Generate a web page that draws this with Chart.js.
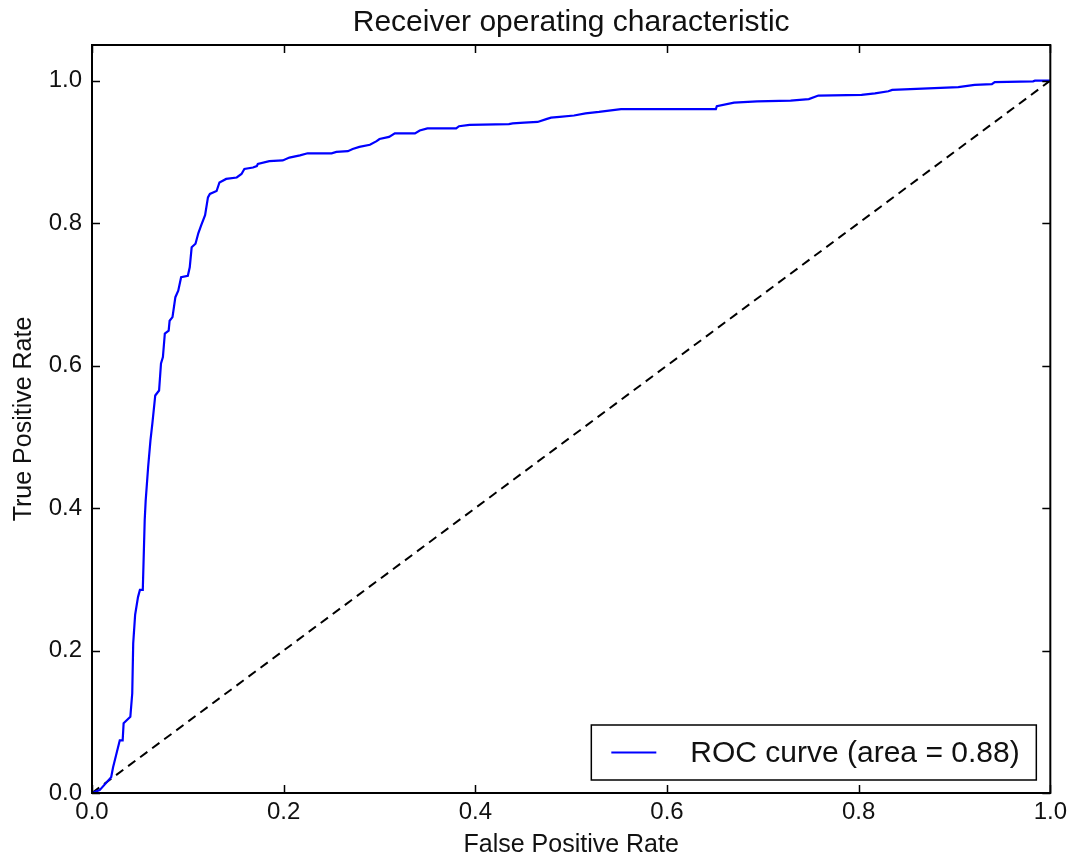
<!DOCTYPE html>
<html>
<head>
<meta charset="utf-8">
<title>Receiver operating characteristic</title>
<script src="https://cdn.jsdelivr.net/npm/chart.js@4.4.1/dist/chart.umd.min.js"></script>
<style>
    html, body { margin: 0; padding: 0; background: #fff; }
    #wrap { width: 1072px; height: 858px; }
</style>
</head>
<body>
<div id="wrap"><canvas id="rocChart" width="1072" height="858"></canvas></div>
<script>
// values
const fprValues = [0, 0.001, 0.008, 0.020, 0.022, 0.029, 0.032, 0.033, 0.040, 0.042,
    0.043, 0.045, 0.048, 0.050, 0.053, 0.055, 0.056, 0.0586, 0.061, 0.063,
    0.066, 0.070, 0.072, 0.074, 0.076, 0.080, 0.081, 0.084, 0.087, 0.090,
    0.093, 0.100, 0.102, 0.104, 0.108, 0.111, 0.114, 0.118, 0.121, 0.123,
    0.130, 0.133, 0.140, 0.151, 0.156, 0.159, 0.168, 0.172, 0.173, 0.185,
    0.199, 0.206, 0.217, 0.225, 0.250, 0.255, 0.267, 0.272, 0.279, 0.290,
    0.297, 0.300, 0.310, 0.316, 0.337, 0.342, 0.350, 0.380, 0.383, 0.394,
    0.435, 0.439, 0.451, 0.465, 0.474, 0.479, 0.488, 0.503, 0.515, 0.529,
    0.552, 0.651, 0.652, 0.670, 0.694, 0.729, 0.748, 0.758, 0.803, 0.817,
    0.831, 0.835, 0.854, 0.904, 0.921, 0.939, 0.942, 0.982, 0.984, 1.0];
const tprValues = [0, 0, 0.004, 0.022, 0.036, 0.074, 0.074, 0.098, 0.107, 0.14,
    0.21, 0.25, 0.275, 0.285, 0.285, 0.383, 0.41, 0.458, 0.495, 0.519,
    0.558, 0.565, 0.603, 0.612, 0.645, 0.649, 0.663, 0.668, 0.696, 0.705,
    0.724, 0.726, 0.738, 0.766, 0.771, 0.786, 0.797, 0.811, 0.836, 0.841,
    0.845, 0.857, 0.862, 0.864, 0.869, 0.876, 0.878, 0.880, 0.883, 0.887,
    0.888, 0.892, 0.895, 0.898, 0.898, 0.900, 0.901, 0.904, 0.907, 0.910,
    0.915, 0.918, 0.921, 0.926, 0.926, 0.930, 0.933, 0.933, 0.936, 0.938,
    0.939, 0.940, 0.941, 0.942, 0.946, 0.948, 0.949, 0.951, 0.954, 0.956,
    0.960, 0.960, 0.964, 0.969, 0.971, 0.972, 0.974, 0.979, 0.980, 0.982,
    0.985, 0.987, 0.988, 0.991, 0.994, 0.995, 0.998, 0.999, 1.0, 1.0];
const chanceX = [0, 1];
const chanceY = [0, 1];
const rocLabel = 'ROC curve (area = 0.88)';
const chartTitle = 'Receiver operating characteristic';
const xTicks = [0, 0.2, 0.4, 0.6, 0.8, 1.0];
const yTicks = [0, 0.2, 0.4, 0.6, 0.8, 1.0];

const FONT = "'Liberation Sans', Arial, sans-serif";

// matplotlib-style frame: box on all sides, ticks pointing inward,
// title centred over the axes and the legend box in the lower right
const framePlugin = {
    id: 'frame',
    afterDatasetsDraw(chart) {
        const { ctx, chartArea: a, scales } = chart;
        const len = 8;
        ctx.save();
        ctx.strokeStyle = '#000';
        ctx.lineWidth = 1.5;
        ctx.beginPath();
        scales.x.ticks.forEach(t => {
            const px = Math.round(scales.x.getPixelForValue(t.value)) + 0.5;
            ctx.moveTo(px, a.bottom); ctx.lineTo(px, a.bottom - len);
            ctx.moveTo(px, a.top); ctx.lineTo(px, a.top + len);
        });
        scales.y.ticks.forEach(t => {
            const py = Math.round(scales.y.getPixelForValue(t.value)) + 0.5;
            ctx.moveTo(a.left, py); ctx.lineTo(a.left + len, py);
            ctx.moveTo(a.right, py); ctx.lineTo(a.right - len, py);
        });
        ctx.stroke();
        ctx.lineWidth = 2;
        ctx.strokeRect(a.left, a.top, a.right - a.left, a.bottom - a.top);

        // title
        ctx.fillStyle = '#111';
        ctx.font = '30px ' + FONT;
        ctx.textAlign = 'center';
        ctx.textBaseline = 'middle';
        ctx.fillText(chartTitle, (a.left + a.right) / 2, a.top - 22);

        // legend box
        const w = 445, h = 55;
        const bx = a.right - 14 - w;
        const by = a.bottom - 13 - h;
        ctx.fillStyle = '#fff';
        ctx.fillRect(bx, by, w, h);
        ctx.strokeStyle = '#000';
        ctx.lineWidth = 1.5;
        ctx.strokeRect(bx, by, w, h);
        const ds = chart.data.datasets[0];
        ctx.strokeStyle = ds.borderColor;
        ctx.lineWidth = 2;
        ctx.beginPath();
        ctx.moveTo(bx + 20, by + h / 2);
        ctx.lineTo(bx + 65, by + h / 2);
        ctx.stroke();
        ctx.fillStyle = '#111';
        ctx.textAlign = 'left';
        ctx.fillText(ds.label, bx + 99, by + h / 2 + 1);
        ctx.restore();
    }
};

const ctx = document.getElementById('rocChart').getContext('2d');
new Chart(ctx, {
    type: 'scatter',
    data: {
        datasets: [{
            label: rocLabel,
            data: fprValues.map((x, i) => ({ x: x, y: tprValues[i] })),
            showLine: true,
            borderColor: '#0000ff',
            borderWidth: 2.2,
            pointRadius: 0,
            fill: false
        }, {
            label: 'chance',
            data: chanceX.map((x, i) => ({ x: x, y: chanceY[i] })),
            showLine: true,
            borderColor: '#000',
            borderWidth: 2,
            borderDash: [9, 6],
            pointRadius: 0,
            fill: false
        }]
    },
    options: {
        responsive: false,
        animation: false,
        layout: { padding: { left: 0, right: 20, top: 45, bottom: 0 } },
        plugins: {
            legend: { display: false },
            tooltip: { enabled: false },
            title: { display: false }
        },
        scales: {
            x: {
                type: 'linear',
                min: 0,
                max: 1,
                grid: { display: false, drawTicks: false },
                border: { display: false },
                afterBuildTicks: s => { s.ticks = xTicks.map(v => ({ value: v })); },
                afterFit: s => { s.height = 65; },
                ticks: {
                    padding: 5,
                    color: '#111',
                    font: { family: FONT, size: 24 },
                    maxRotation: 0,
                    callback: v => v.toFixed(1)
                },
                title: {
                    display: true,
                    text: 'False Positive Rate',
                    color: '#111',
                    font: { family: FONT, size: 25, lineHeight: 1.0 },
                    padding: { top: 0, bottom: 0 }
                }
            },
            y: {
                type: 'linear',
                min: 0,
                max: 1.05,
                grid: { display: false, drawTicks: false },
                border: { display: false },
                afterBuildTicks: s => { s.ticks = yTicks.map(v => ({ value: v })); },
                afterFit: s => { s.width = 92; },
                ticks: {
                    padding: 10,
                    color: '#111',
                    font: { family: FONT, size: 24 },
                    callback: v => v.toFixed(1)
                },
                title: {
                    display: true,
                    text: 'True Positive Rate',
                    color: '#111',
                    font: { family: FONT, size: 25, lineHeight: 1.0 },
                    padding: { top: 12, bottom: 0 }
                }
            }
        }
    },
    plugins: [framePlugin]
});
</script>
</body>
</html>
